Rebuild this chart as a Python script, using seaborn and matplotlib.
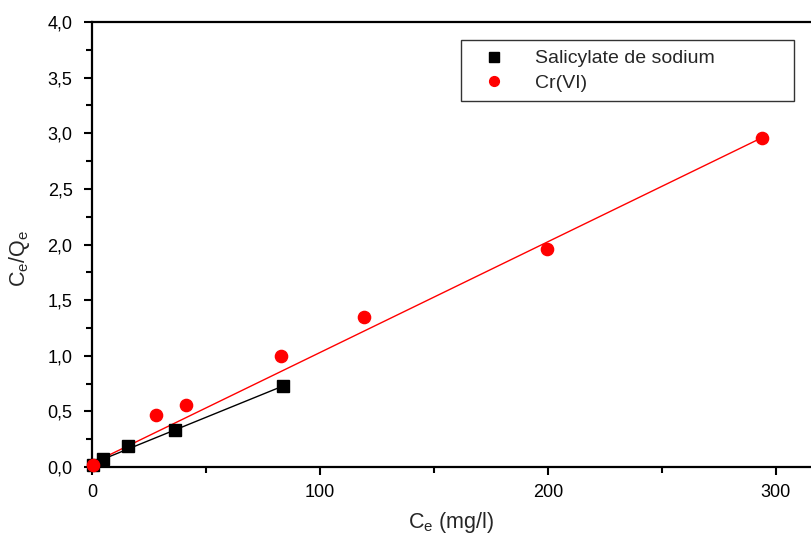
import numpy as np
import pandas as pd
import matplotlib
matplotlib.use("Agg")
import matplotlib.pyplot as plt
import seaborn as sns
from matplotlib.ticker import FuncFormatter, MultipleLocator

# Data
sal_ce = [0.5, 4.7, 15.6, 36.4, 83.9]
sal_ratio = [0.02, 0.075, 0.19, 0.33, 0.73]
cr_ce = [0.5, 27.9, 41.1, 83.0, 119.3, 199.6, 293.9]
cr_ratio = [0.02, 0.47, 0.56, 1.00, 1.35, 1.96, 2.96]

# Linear fit lines: [intercept, slope]
sal_fit = [0.03, 0.00833]
cr_fit = [0.033, 0.00996]

sal_label = "Salicylate de sodium"
cr_label = "Cr(VI)"

sns.set_theme(style="ticks")
plt.rcParams['font.family'] = ['Liberation Sans', 'DejaVu Sans']
plt.rcParams['mathtext.fontset'] = 'custom'
plt.rcParams['mathtext.rm'] = 'Liberation Sans'
plt.rcParams['mathtext.it'] = 'Liberation Sans'

fig = plt.figure(figsize=(8.11, 5.38), dpi=100)
ax = fig.add_axes([92/811, 1 - 467/538, 1 - 92/811, (467 - 22)/538])

sal_x = np.array([0.0, max(sal_ce)])
cr_x = np.array([0.0, max(cr_ce)])
sns.lineplot(x=sal_x, y=sal_fit[0] + sal_fit[1]*sal_x, ax=ax, color="black", lw=1.0)
sns.lineplot(x=cr_x, y=cr_fit[0] + cr_fit[1]*cr_x, ax=ax, color="red", lw=1.0)

ax.plot(sal_ce, sal_ratio, linestyle="none", marker="s", ms=8.3, color="black",
        label=sal_label, clip_on=False, zorder=5)
ax.plot(cr_ce, cr_ratio, linestyle="none", marker="o", ms=8.8, color="red",
        mec="red", label=cr_label, clip_on=False, zorder=5)

ax.set_xlim(0, 315.4)
ax.set_ylim(0, 4.0)
ax.xaxis.set_major_locator(MultipleLocator(100))
ax.xaxis.set_minor_locator(MultipleLocator(50))
ax.yaxis.set_major_locator(MultipleLocator(0.5))
ax.yaxis.set_minor_locator(MultipleLocator(0.25))
ax.yaxis.set_major_formatter(FuncFormatter(lambda v, p: f"{v:.1f}".replace('.', ',')))
ax.xaxis.set_major_formatter(FuncFormatter(lambda v, p: f"{v:.0f}"))

ax.tick_params(which="major", direction="out", length=6, width=1.5, labelsize=13, colors="black")
ax.tick_params(axis="y", which="major", pad=8)
ax.tick_params(axis="x", which="major", pad=6)
ax.tick_params(which="minor", direction="out", length=4, width=1.5, colors="black")
for s in ["left", "bottom", "top"]:
    ax.spines[s].set_linewidth(1.6)
    ax.spines[s].set_color("black")
ax.spines["right"].set_visible(False)

ax.set_xlabel(r"C$_\mathregular{e}$ (mg/l)", fontsize=15.5, labelpad=7)
ax.set_ylabel(r"C$_\mathregular{e}$/Q$_\mathregular{e}$", fontsize=15.5)
ax.yaxis.set_label_coords(-0.083, 0.47)

x0 = (461 - 92) / 719
w = (794 - 461) / 719
ytop = 1 - (40 - 22) / 445
leg = ax.legend(loc="upper left", bbox_to_anchor=(x0, ytop - 0.2, w, 0.2), mode="expand",
                frameon=True, fancybox=False, fontsize=14, borderpad=0.5,
                handletextpad=0.9, labelspacing=0.35, handlelength=2.4,
                markerscale=0.8, borderaxespad=0)
leg.get_frame().set_edgecolor("black")
leg.get_frame().set_linewidth(1.0)

fig.savefig("out.png", dpi=100)
